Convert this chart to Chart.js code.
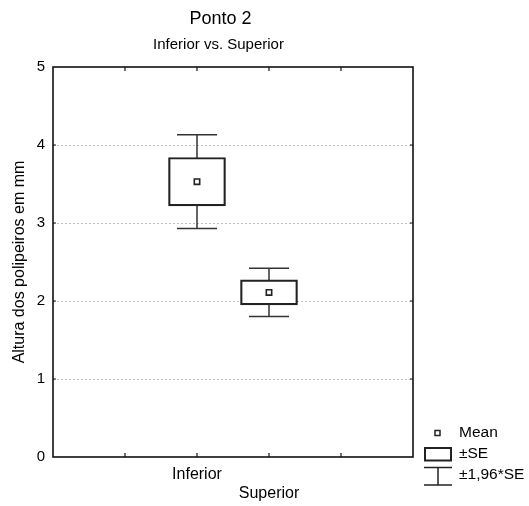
<!DOCTYPE html>
<html lang="pt">
<head>
<meta charset="UTF-8" />
<title>Ponto 2</title>
<script src="https://cdn.jsdelivr.net/npm/chart.js"></script>
<style>
  body { margin: 0; background: #fff; }
  #wrap { width: 529px; height: 506px; }
</style>
</head>
<body>
<div id="wrap"><canvas id="chart" width="529" height="506"></canvas></div>
<script>
  // values
  const groups = ['Inferior', 'Superior'];
  const groupPos = [2, 3];
  const means = [3.53, 2.11];
  const seLow = [3.22, 1.95];
  const seHigh = [3.84, 2.27];
  const ciLow = [2.93, 1.80];
  const ciHigh = [4.13, 2.42];
  const legendLabels = ['Mean', '±SE', '±1,96*SE'];

  const FONT = "'Liberation Sans', Arial, sans-serif";

  // whiskers, frame, inward ticks, titles and the legend
  const extras = {
    id: 'extras',
    beforeDatasetsDraw(chart) {
      const { ctx, scales: { x, y } } = chart;
      ctx.save();
      ctx.strokeStyle = '#333';
      ctx.lineWidth = 1.5;
      groupPos.forEach((g, i) => {
        const cx = x.getPixelForValue(g);
        const hw = 20;
        const top = y.getPixelForValue(ciHigh[i]);
        const bot = y.getPixelForValue(ciLow[i]);
        ctx.beginPath();
        ctx.moveTo(cx - hw, top); ctx.lineTo(cx + hw, top);
        ctx.moveTo(cx, top); ctx.lineTo(cx, bot);
        ctx.moveTo(cx - hw, bot); ctx.lineTo(cx + hw, bot);
        ctx.stroke();
      });
      ctx.restore();
    },
    afterDraw(chart) {
      const { ctx, chartArea: a, scales: { x, y } } = chart;
      ctx.save();
      ctx.strokeStyle = '#111';
      ctx.lineWidth = 1.6;
      ctx.strokeRect(a.left, a.top, a.right - a.left, a.bottom - a.top);

      ctx.lineWidth = 1.2;
      ctx.beginPath();
      [1, 2, 3, 4].forEach(v => {
        const px = x.getPixelForValue(v);
        ctx.moveTo(px, a.top); ctx.lineTo(px, a.top + 4);
        ctx.moveTo(px, a.bottom); ctx.lineTo(px, a.bottom - 4);
        const py = y.getPixelForValue(v);
        ctx.moveTo(a.left, py); ctx.lineTo(a.left + 3, py);
        ctx.moveTo(a.right, py); ctx.lineTo(a.right - 3, py);
      });
      ctx.stroke();

      ctx.fillStyle = '#000';
      ctx.textAlign = 'center';
      ctx.textBaseline = 'middle';
      ctx.font = '18px ' + FONT;
      ctx.fillText('Ponto 2', 220.5, 19);
      ctx.font = '15px ' + FONT;
      ctx.fillText('Inferior vs. Superior', 218.5, 45);

      // legend
      ctx.strokeStyle = '#222';
      ctx.lineWidth = 1.5;
      ctx.fillStyle = '#fff';
      ctx.fillRect(435, 430.5, 5, 5);
      ctx.strokeRect(435, 430.5, 5, 5);
      ctx.lineWidth = 2;
      ctx.strokeRect(425, 448, 26, 12.5);
      ctx.lineWidth = 1.5;
      ctx.beginPath();
      ctx.moveTo(424, 467.5); ctx.lineTo(452, 467.5);
      ctx.moveTo(438, 467.5); ctx.lineTo(438, 485);
      ctx.moveTo(424, 485); ctx.lineTo(452, 485);
      ctx.stroke();

      ctx.fillStyle = '#000';
      ctx.textAlign = 'left';
      ctx.font = '15.5px ' + FONT;
      ctx.fillText(legendLabels[0], 459, 433);
      ctx.fillText(legendLabels[1], 459, 454);
      ctx.fillText(legendLabels[2], 459, 474.5);
      ctx.restore();
    }
  };

  new Chart(document.getElementById('chart'), {
    type: 'bar',
    data: {
      datasets: [
        {
          type: 'scatter',
          data: groupPos.map((g, i) => ({ x: g, y: means[i] })),
          pointStyle: 'rect',
          pointRadius: 3.8,
          borderWidth: 1.6,
          borderColor: '#222',
          backgroundColor: '#fff',
          order: 1
        },
        {
          type: 'bar',
          data: groupPos.map((g, i) => ({ x: g, y: [seLow[i], seHigh[i]] })),
          barThickness: 57,
          borderWidth: 2.2,
          borderSkipped: false,
          borderColor: '#222',
          backgroundColor: '#fff',
          order: 2
        }
      ]
    },
    options: {
      responsive: false,
      animation: false,
      devicePixelRatio: 1,
      layout: { padding: { top: 67, left: 0, right: 116, bottom: 0 } },
      plugins: { legend: { display: false }, tooltip: { enabled: false } },
      scales: {
        x: {
          type: 'linear',
          min: 0,
          max: 5,
          offset: false,
          afterFit: s => { s.height = 49; },
          grid: { display: false, drawTicks: false, offset: false },
          border: { display: false },
          ticks: {
            stepSize: 1,
            autoSkip: false,
            maxRotation: 0,
            padding: 8,
            color: '#000',
            font: { family: FONT, size: 16, lineHeight: 1.2 },
            callback: v => {
              const i = groupPos.indexOf(v);
              if (i < 0) return '';
              return i === 0 ? groups[i] : ['', groups[i]];
            }
          }
        },
        y: {
          min: 0,
          max: 5,
          afterFit: s => { s.width = 53; },
          grid: {
            drawTicks: false,
            lineWidth: 1,
            color: c => (c.tick.value > 0 && c.tick.value < 5 ? '#bdbdbd' : 'rgba(0,0,0,0)')
          },
          border: { display: false, dash: [2, 2] },
          ticks: {
            stepSize: 1,
            padding: 8,
            color: '#000',
            font: { family: FONT, size: 15 }
          },
          title: {
            display: true,
            text: 'Altura dos polipeiros em mm',
            color: '#000',
            padding: { top: 10, bottom: 0 },
            font: { family: FONT, size: 16 }
          }
        }
      }
    },
    plugins: [extras]
  });
</script>
</body>
</html>
